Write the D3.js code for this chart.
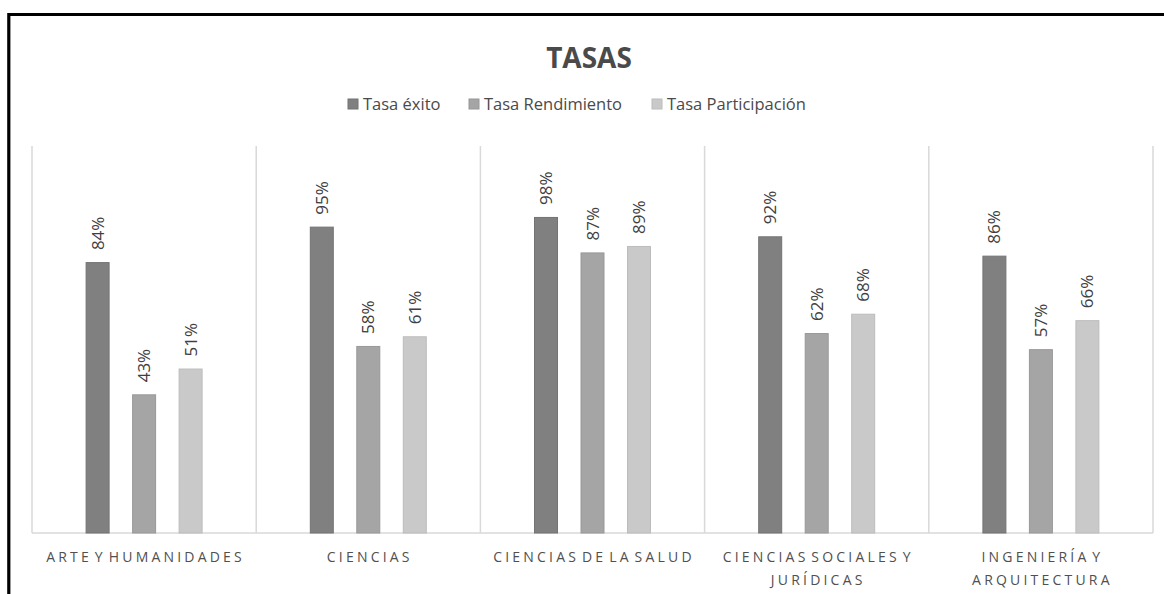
<!DOCTYPE html>
<html>
<head>
<meta charset="utf-8">
<script src="https://cdn.jsdelivr.net/npm/d3@7"></script>
<style>
  html, body { margin: 0; padding: 0; background: #fff; }
  svg { display: block; font-family: "Open Sans", sans-serif; }
</style>
</head>
<body>
<svg id="chart" width="1164" height="594"></svg>
<script>
// Rates by knowledge area (percent)
const categories = [
  "ARTE Y HUMANIDADES",
  "CIENCIAS",
  "CIENCIAS DE LA SALUD",
  "CIENCIAS SOCIALES Y JURÍDICAS",
  "INGENIERÍA Y ARQUITECTURA"
];
// how each category label breaks onto lines
const categoryLines = [
  ["ARTE Y HUMANIDADES"],
  ["CIENCIAS"],
  ["CIENCIAS DE LA SALUD"],
  ["CIENCIAS SOCIALES Y", "JURÍDICAS"],
  ["INGENIERÍA Y", "ARQUITECTURA"]
];
const seriesNames = ["Tasa éxito", "Tasa Rendimiento", "Tasa Participación"];
const tasaExito        = [84, 95, 98, 92, 86];
const tasaRendimiento  = [43, 58, 87, 62, 57];
const tasaParticipacion = [51, 61, 89, 68, 66];
const seriesColors = ["#808080", "#a5a5a5", "#c9c9c9"];
const seriesStroke = ["#737373", "#989898", "#bcbcbc"];
const yMax = 120;

const seriesValues = [tasaExito, tasaRendimiento, tasaParticipacion];
const rows = categories.map((c, i) => ({
  cat: c,
  lines: categoryLines[i],
  vals: seriesNames.map((s, j) => ({ name: s, idx: j, v: seriesValues[j][i] }))
}));

const svg = d3.select("#chart");

// frame lines (top and left)
svg.append("path")
  .attr("d", "M8.8,594 V14.5 H1164")
  .attr("fill", "none")
  .attr("stroke", "#000")
  .attr("stroke-width", 3.2);

const plot = { left: 32, right: 1153, top: 146, bottom: 533 };

const x0 = d3.scaleBand().domain(categories).range([plot.left, plot.right]).padding(0);
const x1 = d3.scaleBand().domain(seriesNames).range([0, x0.bandwidth()])
  .paddingInner(0.484).paddingOuter(1.153);
const y = d3.scaleLinear().domain([0, yMax]).range([plot.bottom, plot.top]);

// vertical category separators
const bounds = categories.map(c => x0(c)).concat([plot.right]);
svg.append("g").selectAll("line").data(bounds).join("line")
  .attr("x1", d => d).attr("x2", d => d)
  .attr("y1", plot.top).attr("y2", plot.bottom)
  .attr("stroke", "#d9d9d9").attr("stroke-width", 1.5);

// baseline
svg.append("line")
  .attr("x1", plot.left).attr("x2", plot.right)
  .attr("y1", plot.bottom).attr("y2", plot.bottom)
  .attr("stroke", "#d9d9d9").attr("stroke-width", 1.5);

// bars
const groups = svg.append("g").selectAll("g").data(rows).join("g")
  .attr("transform", d => `translate(${x0(d.cat)},0)`);

groups.selectAll("rect").data(d => d.vals).join("rect")
  .attr("x", d => x1(d.name) + 0.5)
  .attr("y", d => y(d.v) + 0.5)
  .attr("width", x1.bandwidth() - 1)
  .attr("height", d => y(0) - y(d.v) - 0.5)
  .attr("fill", d => seriesColors[d.idx])
  .attr("stroke", d => seriesStroke[d.idx])
  .attr("stroke-width", 1);

// value labels (rotated)
groups.selectAll("text.val").data(d => d.vals).join("text")
  .attr("class", "val")
  .attr("transform", d => `translate(${x1(d.name) + x1.bandwidth() / 2 + 6},${y(d.v) - 12}) rotate(-90)`)
  .attr("text-anchor", "start")
  .attr("font-size", 17)
  .attr("fill", "#404040")
  .text(d => d.v + "%");

// category labels
const catG = svg.append("g");
rows.forEach(r => {
  const cx = x0(r.cat) + x0.bandwidth() / 2 + 1.5;
  const t = catG.append("text")
    .attr("x", cx).attr("y", 562)
    .attr("text-anchor", "middle")
    .attr("font-size", 14)
    .attr("letter-spacing", 3.2)
    .attr("word-spacing", -4)
    .attr("fill", "#505050");
  r.lines.forEach((ln, k) => {
    t.append("tspan").attr("x", cx).attr("dy", k === 0 ? 0 : 23).text(ln);
  });
});

// title
svg.append("text")
  .attr("x", 589).attr("y", 68)
  .attr("text-anchor", "middle")
  .attr("font-size", 28)
  .attr("font-weight", "bold")
  .attr("fill", "#4a4a4a")
  .text("TASAS");

// legend
const legend = svg.append("g");
const legendX = [348, 469, 652];
seriesNames.forEach((s, i) => {
  const g = legend.append("g").attr("transform", `translate(${legendX[i]},0)`);
  g.append("rect").attr("x", 0).attr("y", 99).attr("width", 10).attr("height", 10)
    .attr("fill", seriesColors[i]).attr("stroke", seriesStroke[i]);
  g.append("text").attr("x", 15).attr("y", 110)
    .attr("font-size", 16.5).attr("fill", "#4a4a4a").text(s);
});
</script>
</body>
</html>
